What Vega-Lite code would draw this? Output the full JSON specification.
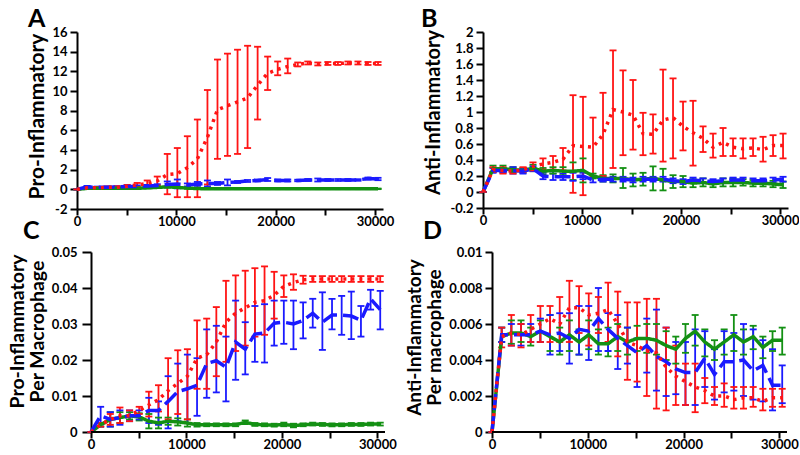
{
"$schema": "https://vega.github.io/schema/vega-lite/v6.json",
"background": "white",
"padding": {"left": 7, "top": 7, "right": 0, "bottom": 0},
"config": {
  "view": {"stroke": null},
  "font": "Lato",
  "axis": {"grid": false, "domainColor": "black", "domainWidth": 2, "tickColor": "black", "tickWidth": 2, "tickSize": 7, "tickCount": 40, "labelPadding": 3, "labelFont": "Lato", "labelFontWeight": "bold", "labelFontSize": 13, "labelColor": "black", "labelFlush": false, "labelOverlap": false, "titleFont": "Lato", "titleFontWeight": "bold", "titleColor": "black", "titlePadding": 4},
  "axisX": {"tickSize": 6, "labelPadding": 0},
  "title": {"font": "Lato", "fontWeight": "bold", "fontSize": 25, "anchor": "start", "frame": "group", "color": "black"}
},
"datasets": {
"A": [
{"x":0,"s":"green","y":0,"lo":0,"hi":0},{"x":1010,"s":"green","y":0.1,"lo":0.05,"hi":0.15},{"x":2020,"s":"green","y":0.1,"lo":0.05,"hi":0.15},{"x":3030,"s":"green","y":0.1,"lo":0.05,"hi":0.15},{"x":4040,"s":"green","y":0.1,"lo":0.05,"hi":0.15},{"x":5050,"s":"green","y":0.1,"lo":0.05,"hi":0.15},{"x":6060,"s":"green","y":0.1,"lo":0.05,"hi":0.15},{"x":7070,"s":"green","y":0.15,"lo":0.1,"hi":0.2},{"x":8080,"s":"green","y":0.2,"lo":0.15,"hi":0.25},{"x":9090,"s":"green","y":0.25,"lo":0.2,"hi":0.3},{"x":10100,"s":"green","y":0.2,"lo":0.15,"hi":0.25},{"x":11110,"s":"green","y":0.12,"lo":0.07,"hi":0.17},{"x":12120,"s":"green","y":0.08,"lo":0.03,"hi":0.13},{"x":13130,"s":"green","y":0.05,"lo":0.02,"hi":0.08},{"x":14140,"s":"green","y":0.05,"lo":0.02,"hi":0.08},{"x":15150,"s":"green","y":0.05,"lo":0.02,"hi":0.08},{"x":16160,"s":"green","y":0.05,"lo":0.02,"hi":0.08},{"x":17170,"s":"green","y":0.05,"lo":0.02,"hi":0.08},{"x":18180,"s":"green","y":0.05,"lo":0.02,"hi":0.08},{"x":19190,"s":"green","y":0.05,"lo":0.02,"hi":0.08},{"x":20200,"s":"green","y":0.05,"lo":0.02,"hi":0.08},{"x":21210,"s":"green","y":0.05,"lo":0.02,"hi":0.08},{"x":22220,"s":"green","y":0.05,"lo":0.02,"hi":0.08},{"x":23230,"s":"green","y":0.05,"lo":0.02,"hi":0.08},{"x":24240,"s":"green","y":0.05,"lo":0.02,"hi":0.08},{"x":25250,"s":"green","y":0.05,"lo":0.02,"hi":0.08},{"x":26260,"s":"green","y":0.05,"lo":0.02,"hi":0.08},{"x":27270,"s":"green","y":0.05,"lo":0.02,"hi":0.08},{"x":28280,"s":"green","y":0.05,"lo":0.02,"hi":0.08},{"x":29290,"s":"green","y":0.05,"lo":0.02,"hi":0.08},{"x":30300,"s":"green","y":0.05,"lo":0.02,"hi":0.08},
{"x":0,"s":"blue","y":0,"lo":0,"hi":0},{"x":1010,"s":"blue","y":0.25,"lo":0.15,"hi":0.35},{"x":2020,"s":"blue","y":0.2,"lo":0.12,"hi":0.28},{"x":3030,"s":"blue","y":0.2,"lo":0.12,"hi":0.28},{"x":4040,"s":"blue","y":0.25,"lo":0.17,"hi":0.33},{"x":5050,"s":"blue","y":0.3,"lo":0.2,"hi":0.4},{"x":6060,"s":"blue","y":0.3,"lo":0.2,"hi":0.4},{"x":7070,"s":"blue","y":0.35,"lo":0.25,"hi":0.45},{"x":8080,"s":"blue","y":0.4,"lo":0.28,"hi":0.52},{"x":9090,"s":"blue","y":0.5,"lo":0.2,"hi":0.8},{"x":10100,"s":"blue","y":0.55,"lo":0.1,"hi":1.0},{"x":11110,"s":"blue","y":0.45,"lo":0.3,"hi":0.6},{"x":12120,"s":"blue","y":0.55,"lo":0.35,"hi":0.75},{"x":13130,"s":"blue","y":0.6,"lo":0.3,"hi":0.9},{"x":14140,"s":"blue","y":0.6,"lo":0.45,"hi":0.75},{"x":15150,"s":"blue","y":0.7,"lo":0.4,"hi":1.0},{"x":16160,"s":"blue","y":0.75,"lo":0.65,"hi":0.85},{"x":17170,"s":"blue","y":0.85,"lo":0.75,"hi":0.95},{"x":18180,"s":"blue","y":0.9,"lo":0.8,"hi":1.0},{"x":19190,"s":"blue","y":1.0,"lo":0.85,"hi":1.15},{"x":20200,"s":"blue","y":0.9,"lo":0.8,"hi":1.0},{"x":21210,"s":"blue","y":0.9,"lo":0.8,"hi":1.0},{"x":22220,"s":"blue","y":0.9,"lo":0.82,"hi":0.98},{"x":23230,"s":"blue","y":0.95,"lo":0.85,"hi":1.05},{"x":24240,"s":"blue","y":0.95,"lo":0.8,"hi":1.1},{"x":25250,"s":"blue","y":0.95,"lo":0.85,"hi":1.05},{"x":26260,"s":"blue","y":0.95,"lo":0.85,"hi":1.05},{"x":27270,"s":"blue","y":0.95,"lo":0.85,"hi":1.05},{"x":28280,"s":"blue","y":0.95,"lo":0.87,"hi":1.03},{"x":29290,"s":"blue","y":1.1,"lo":1.0,"hi":1.2},{"x":30300,"s":"blue","y":1.05,"lo":0.93,"hi":1.17},
{"x":0,"s":"red","y":0,"lo":0,"hi":0},{"x":1010,"s":"red","y":0.15,"lo":0.05,"hi":0.25},{"x":2020,"s":"red","y":0.15,"lo":0.05,"hi":0.25},{"x":3030,"s":"red","y":0.2,"lo":0.1,"hi":0.3},{"x":4040,"s":"red","y":0.2,"lo":0.1,"hi":0.3},{"x":5050,"s":"red","y":0.3,"lo":0.15,"hi":0.45},{"x":6060,"s":"red","y":0.45,"lo":0.25,"hi":0.65},{"x":7070,"s":"red","y":0.6,"lo":0.3,"hi":0.9},{"x":8080,"s":"red","y":0.85,"lo":0.4,"hi":1.3},{"x":9090,"s":"red","y":1.5,"lo":-0.5,"hi":3.6},{"x":10100,"s":"red","y":1.6,"lo":-0.8,"hi":4.2},{"x":11110,"s":"red","y":2.2,"lo":-0.8,"hi":5.4},{"x":12120,"s":"red","y":3.1,"lo":-0.8,"hi":7.1},{"x":13130,"s":"red","y":5.3,"lo":0.5,"hi":10.1},{"x":14140,"s":"red","y":8.1,"lo":3.1,"hi":13.2},{"x":15150,"s":"red","y":8.5,"lo":3.4,"hi":13.8},{"x":16160,"s":"red","y":8.9,"lo":3.6,"hi":14.2},{"x":17170,"s":"red","y":9.3,"lo":4.2,"hi":14.6},{"x":18180,"s":"red","y":10.6,"lo":7.1,"hi":14.5},{"x":19190,"s":"red","y":11.8,"lo":10.1,"hi":13.5},{"x":20200,"s":"red","y":12.2,"lo":11.6,"hi":13.0},{"x":21210,"s":"red","y":12.5,"lo":11.8,"hi":13.3},{"x":22220,"s":"red","y":12.7,"lo":12.5,"hi":12.9},{"x":23230,"s":"red","y":12.85,"lo":12.7,"hi":13.0},{"x":24240,"s":"red","y":12.75,"lo":12.6,"hi":12.9},{"x":25250,"s":"red","y":12.8,"lo":12.65,"hi":12.95},{"x":26260,"s":"red","y":12.8,"lo":12.65,"hi":12.95},{"x":27270,"s":"red","y":12.85,"lo":12.7,"hi":13.0},{"x":28280,"s":"red","y":12.85,"lo":12.7,"hi":13.0},{"x":29290,"s":"red","y":12.8,"lo":12.65,"hi":12.95},{"x":30300,"s":"red","y":12.8,"lo":12.65,"hi":12.95}
],
"B": [
{"x":0,"s":"green","y":0,"lo":0,"hi":0},{"x":1010,"s":"green","y":0.29,"lo":0.25,"hi":0.33},{"x":2020,"s":"green","y":0.29,"lo":0.25,"hi":0.33},{"x":3030,"s":"green","y":0.28,"lo":0.25,"hi":0.31},{"x":4040,"s":"green","y":0.27,"lo":0.24,"hi":0.3},{"x":5050,"s":"green","y":0.3,"lo":0.26,"hi":0.34},{"x":6060,"s":"green","y":0.26,"lo":0.22,"hi":0.3},{"x":7070,"s":"green","y":0.27,"lo":0.23,"hi":0.31},{"x":8080,"s":"green","y":0.26,"lo":0.21,"hi":0.31},{"x":9090,"s":"green","y":0.26,"lo":0.15,"hi":0.37},{"x":10100,"s":"green","y":0.27,"lo":0.12,"hi":0.42},{"x":11110,"s":"green","y":0.2,"lo":0.17,"hi":0.23},{"x":12120,"s":"green","y":0.17,"lo":0.13,"hi":0.21},{"x":13130,"s":"green","y":0.17,"lo":0.12,"hi":0.22},{"x":14140,"s":"green","y":0.17,"lo":0.05,"hi":0.3},{"x":15150,"s":"green","y":0.15,"lo":0.07,"hi":0.23},{"x":16160,"s":"green","y":0.16,"lo":0.08,"hi":0.24},{"x":17170,"s":"green","y":0.17,"lo":0.02,"hi":0.32},{"x":18180,"s":"green","y":0.15,"lo":0.02,"hi":0.29},{"x":19190,"s":"green","y":0.13,"lo":0.05,"hi":0.21},{"x":20200,"s":"green","y":0.13,"lo":0.06,"hi":0.2},{"x":21210,"s":"green","y":0.11,"lo":0.06,"hi":0.16},{"x":22220,"s":"green","y":0.12,"lo":0.07,"hi":0.17},{"x":23230,"s":"green","y":0.1,"lo":0.06,"hi":0.14},{"x":24240,"s":"green","y":0.12,"lo":0.07,"hi":0.17},{"x":25250,"s":"green","y":0.12,"lo":0.07,"hi":0.17},{"x":26260,"s":"green","y":0.12,"lo":0.08,"hi":0.16},{"x":27270,"s":"green","y":0.11,"lo":0.07,"hi":0.15},{"x":28280,"s":"green","y":0.11,"lo":0.07,"hi":0.15},{"x":29290,"s":"green","y":0.1,"lo":0.06,"hi":0.14},{"x":30300,"s":"green","y":0.09,"lo":0.05,"hi":0.13},
{"x":0,"s":"blue","y":0,"lo":0,"hi":0},{"x":1010,"s":"blue","y":0.27,"lo":0.24,"hi":0.3},{"x":2020,"s":"blue","y":0.27,"lo":0.24,"hi":0.3},{"x":3030,"s":"blue","y":0.27,"lo":0.23,"hi":0.31},{"x":4040,"s":"blue","y":0.26,"lo":0.23,"hi":0.29},{"x":5050,"s":"blue","y":0.29,"lo":0.26,"hi":0.32},{"x":6060,"s":"blue","y":0.2,"lo":0.16,"hi":0.24},{"x":7070,"s":"blue","y":0.19,"lo":0.15,"hi":0.23},{"x":8080,"s":"blue","y":0.19,"lo":0.15,"hi":0.23},{"x":9090,"s":"blue","y":0.19,"lo":0.14,"hi":0.24},{"x":10100,"s":"blue","y":0.2,"lo":0.16,"hi":0.24},{"x":11110,"s":"blue","y":0.15,"lo":0.12,"hi":0.18},{"x":12120,"s":"blue","y":0.16,"lo":0.13,"hi":0.19},{"x":13130,"s":"blue","y":0.16,"lo":0.13,"hi":0.19},{"x":14140,"s":"blue","y":0.16,"lo":0.13,"hi":0.19},{"x":15150,"s":"blue","y":0.15,"lo":0.12,"hi":0.18},{"x":16160,"s":"blue","y":0.16,"lo":0.13,"hi":0.19},{"x":17170,"s":"blue","y":0.16,"lo":0.13,"hi":0.19},{"x":18180,"s":"blue","y":0.16,"lo":0.13,"hi":0.19},{"x":19190,"s":"blue","y":0.14,"lo":0.11,"hi":0.17},{"x":20200,"s":"blue","y":0.13,"lo":0.1,"hi":0.16},{"x":21210,"s":"blue","y":0.15,"lo":0.12,"hi":0.18},{"x":22220,"s":"blue","y":0.14,"lo":0.11,"hi":0.17},{"x":23230,"s":"blue","y":0.13,"lo":0.1,"hi":0.16},{"x":24240,"s":"blue","y":0.14,"lo":0.11,"hi":0.17},{"x":25250,"s":"blue","y":0.15,"lo":0.12,"hi":0.18},{"x":26260,"s":"blue","y":0.15,"lo":0.12,"hi":0.18},{"x":27270,"s":"blue","y":0.14,"lo":0.11,"hi":0.17},{"x":28280,"s":"blue","y":0.14,"lo":0.11,"hi":0.17},{"x":29290,"s":"blue","y":0.15,"lo":0.12,"hi":0.18},{"x":30300,"s":"blue","y":0.16,"lo":0.13,"hi":0.19},
{"x":0,"s":"red","y":0,"lo":0,"hi":0},{"x":1010,"s":"red","y":0.28,"lo":0.25,"hi":0.31},{"x":2020,"s":"red","y":0.27,"lo":0.23,"hi":0.31},{"x":3030,"s":"red","y":0.26,"lo":0.23,"hi":0.29},{"x":4040,"s":"red","y":0.28,"lo":0.25,"hi":0.31},{"x":5050,"s":"red","y":0.32,"lo":0.27,"hi":0.37},{"x":6060,"s":"red","y":0.35,"lo":0.28,"hi":0.42},{"x":7070,"s":"red","y":0.37,"lo":0.28,"hi":0.45},{"x":8080,"s":"red","y":0.41,"lo":0.27,"hi":0.55},{"x":9090,"s":"red","y":0.58,"lo":-0.01,"hi":1.21},{"x":10100,"s":"red","y":0.57,"lo":-0.04,"hi":1.19},{"x":11110,"s":"red","y":0.56,"lo":0.2,"hi":0.93},{"x":12120,"s":"red","y":0.72,"lo":0.2,"hi":1.24},{"x":13130,"s":"red","y":1.03,"lo":0.3,"hi":1.77},{"x":14140,"s":"red","y":1.0,"lo":0.46,"hi":1.52},{"x":15150,"s":"red","y":0.96,"lo":0.53,"hi":1.4},{"x":16160,"s":"red","y":0.73,"lo":0.46,"hi":0.99},{"x":17170,"s":"red","y":0.72,"lo":0.48,"hi":0.97},{"x":18180,"s":"red","y":0.9,"lo":0.38,"hi":1.53},{"x":19190,"s":"red","y":0.93,"lo":0.42,"hi":1.42},{"x":20200,"s":"red","y":0.82,"lo":0.52,"hi":1.13},{"x":21210,"s":"red","y":0.74,"lo":0.33,"hi":1.14},{"x":22220,"s":"red","y":0.67,"lo":0.5,"hi":0.82},{"x":23230,"s":"red","y":0.56,"lo":0.43,"hi":0.73},{"x":24240,"s":"red","y":0.62,"lo":0.45,"hi":0.8},{"x":25250,"s":"red","y":0.56,"lo":0.45,"hi":0.67},{"x":26260,"s":"red","y":0.54,"lo":0.42,"hi":0.67},{"x":27270,"s":"red","y":0.55,"lo":0.45,"hi":0.67},{"x":28280,"s":"red","y":0.53,"lo":0.38,"hi":0.69},{"x":29290,"s":"red","y":0.58,"lo":0.45,"hi":0.71},{"x":30300,"s":"red","y":0.58,"lo":0.42,"hi":0.73}
],
"C": [
{"x":0,"s":"green","y":0,"lo":0,"hi":0},{"x":1010,"s":"green","y":0.002,"lo":0.0015,"hi":0.0025},{"x":2020,"s":"green","y":0.0035,"lo":0.0015,"hi":0.0055},{"x":3030,"s":"green","y":0.004,"lo":0.0025,"hi":0.0055},{"x":4040,"s":"green","y":0.0045,"lo":0.0035,"hi":0.0055},{"x":5050,"s":"green","y":0.0042,"lo":0.0032,"hi":0.0052},{"x":6060,"s":"green","y":0.003,"lo":0.001,"hi":0.005},{"x":7070,"s":"green","y":0.0025,"lo":0.001,"hi":0.004},{"x":8080,"s":"green","y":0.003,"lo":0.002,"hi":0.004},{"x":9090,"s":"green","y":0.0028,"lo":0.0018,"hi":0.0038},{"x":10100,"s":"green","y":0.0025,"lo":0.0015,"hi":0.0035},{"x":11110,"s":"green","y":0.002,"lo":0.0015,"hi":0.0025},{"x":12120,"s":"green","y":0.002,"lo":0.0016,"hi":0.0024},{"x":13130,"s":"green","y":0.002,"lo":0.0016,"hi":0.0024},{"x":14140,"s":"green","y":0.002,"lo":0.0016,"hi":0.0024},{"x":15150,"s":"green","y":0.002,"lo":0.0016,"hi":0.0024},{"x":16160,"s":"green","y":0.0027,"lo":0.0022,"hi":0.0032},{"x":17170,"s":"green","y":0.0021,"lo":0.0017,"hi":0.0025},{"x":18180,"s":"green","y":0.002,"lo":0.0016,"hi":0.0024},{"x":19190,"s":"green","y":0.0019,"lo":0.0015,"hi":0.0023},{"x":20200,"s":"green","y":0.0021,"lo":0.0016,"hi":0.0026},{"x":21210,"s":"green","y":0.0018,"lo":0.0013,"hi":0.0023},{"x":22220,"s":"green","y":0.002,"lo":0.0016,"hi":0.0024},{"x":23230,"s":"green","y":0.0022,"lo":0.0018,"hi":0.0026},{"x":24240,"s":"green","y":0.0021,"lo":0.0017,"hi":0.0025},{"x":25250,"s":"green","y":0.002,"lo":0.0016,"hi":0.0024},{"x":26260,"s":"green","y":0.002,"lo":0.0016,"hi":0.0024},{"x":27270,"s":"green","y":0.0021,"lo":0.0017,"hi":0.0025},{"x":28280,"s":"green","y":0.0021,"lo":0.0017,"hi":0.0025},{"x":29290,"s":"green","y":0.0022,"lo":0.0018,"hi":0.0026},{"x":30300,"s":"green","y":0.0022,"lo":0.0018,"hi":0.0026},
{"x":0,"s":"blue","y":0,"lo":0,"hi":0},{"x":1010,"s":"blue","y":0.0045,"lo":0.0015,"hi":0.007},{"x":2020,"s":"blue","y":0.0035,"lo":0.0015,"hi":0.0055},{"x":3030,"s":"blue","y":0.004,"lo":0.002,"hi":0.006},{"x":4040,"s":"blue","y":0.0045,"lo":0.003,"hi":0.006},{"x":5050,"s":"blue","y":0.0045,"lo":0.0035,"hi":0.006},{"x":6060,"s":"blue","y":0.006,"lo":0.0025,"hi":0.0095},{"x":7070,"s":"blue","y":0.006,"lo":0.002,"hi":0.0085},{"x":8080,"s":"blue","y":0.0085,"lo":0.001,"hi":0.0155},{"x":9090,"s":"blue","y":0.0112,"lo":0.003,"hi":0.019},{"x":10100,"s":"blue","y":0.012,"lo":0.0025,"hi":0.0215},{"x":11110,"s":"blue","y":0.013,"lo":0.0045,"hi":0.0205},{"x":12120,"s":"blue","y":0.019,"lo":0.0095,"hi":0.0285},{"x":13130,"s":"blue","y":0.0198,"lo":0.011,"hi":0.0295},{"x":14140,"s":"blue","y":0.018,"lo":0.0085,"hi":0.0265},{"x":15150,"s":"blue","y":0.025,"lo":0.0145,"hi":0.0365},{"x":16160,"s":"blue","y":0.023,"lo":0.016,"hi":0.0305},{"x":17170,"s":"blue","y":0.0272,"lo":0.0195,"hi":0.035},{"x":18180,"s":"blue","y":0.0275,"lo":0.0193,"hi":0.0355},{"x":19190,"s":"blue","y":0.0302,"lo":0.024,"hi":0.0365},{"x":20200,"s":"blue","y":0.0305,"lo":0.0245,"hi":0.0365},{"x":21210,"s":"blue","y":0.03,"lo":0.023,"hi":0.0365},{"x":22220,"s":"blue","y":0.031,"lo":0.026,"hi":0.036},{"x":23230,"s":"blue","y":0.033,"lo":0.029,"hi":0.037},{"x":24240,"s":"blue","y":0.0305,"lo":0.0228,"hi":0.0388},{"x":25250,"s":"blue","y":0.0325,"lo":0.0285,"hi":0.037},{"x":26260,"s":"blue","y":0.0325,"lo":0.027,"hi":0.0378},{"x":27270,"s":"blue","y":0.0322,"lo":0.0258,"hi":0.039},{"x":28280,"s":"blue","y":0.031,"lo":0.0265,"hi":0.035},{"x":29290,"s":"blue","y":0.037,"lo":0.034,"hi":0.0395},{"x":30300,"s":"blue","y":0.034,"lo":0.0285,"hi":0.0392},
{"x":0,"s":"red","y":0,"lo":0,"hi":0},{"x":1010,"s":"red","y":0.002,"lo":0.0015,"hi":0.0025},{"x":2020,"s":"red","y":0.0035,"lo":0.002,"hi":0.005},{"x":3030,"s":"red","y":0.0045,"lo":0.0025,"hi":0.0068},{"x":4040,"s":"red","y":0.0045,"lo":0.003,"hi":0.006},{"x":5050,"s":"red","y":0.006,"lo":0.005,"hi":0.007},{"x":6060,"s":"red","y":0.0075,"lo":0.0043,"hi":0.0112},{"x":7070,"s":"red","y":0.009,"lo":0.0057,"hi":0.013},{"x":8080,"s":"red","y":0.0115,"lo":0.0035,"hi":0.0205},{"x":9090,"s":"red","y":0.0135,"lo":0.005,"hi":0.0227},{"x":10100,"s":"red","y":0.0155,"lo":0.0035,"hi":0.023},{"x":11110,"s":"red","y":0.0205,"lo":0.012,"hi":0.031},{"x":12120,"s":"red","y":0.0215,"lo":0.012,"hi":0.0315},{"x":13130,"s":"red","y":0.025,"lo":0.0155,"hi":0.0347},{"x":14140,"s":"red","y":0.0305,"lo":0.0195,"hi":0.042},{"x":15150,"s":"red","y":0.033,"lo":0.0225,"hi":0.0435},{"x":16160,"s":"red","y":0.0345,"lo":0.024,"hi":0.0448},{"x":17170,"s":"red","y":0.036,"lo":0.0265,"hi":0.0455},{"x":18180,"s":"red","y":0.0365,"lo":0.027,"hi":0.046},{"x":19190,"s":"red","y":0.038,"lo":0.0315,"hi":0.0445},{"x":20200,"s":"red","y":0.0405,"lo":0.0375,"hi":0.0435},{"x":21210,"s":"red","y":0.0415,"lo":0.0395,"hi":0.0438},{"x":22220,"s":"red","y":0.0423,"lo":0.0412,"hi":0.0434},{"x":23230,"s":"red","y":0.0425,"lo":0.0417,"hi":0.0433},{"x":24240,"s":"red","y":0.0425,"lo":0.0417,"hi":0.0433},{"x":25250,"s":"red","y":0.0425,"lo":0.0417,"hi":0.0433},{"x":26260,"s":"red","y":0.0425,"lo":0.0417,"hi":0.0433},{"x":27270,"s":"red","y":0.0425,"lo":0.0417,"hi":0.0433},{"x":28280,"s":"red","y":0.0425,"lo":0.0417,"hi":0.0433},{"x":29290,"s":"red","y":0.0425,"lo":0.0417,"hi":0.0433},{"x":30300,"s":"red","y":0.0425,"lo":0.0417,"hi":0.0433}
],
"D": [
{"x":0,"s":"green","y":0,"lo":0,"hi":0},{"x":1010,"s":"green","y":0.0053,"lo":0.005,"hi":0.0058},{"x":2020,"s":"green","y":0.0055,"lo":0.0049,"hi":0.0062},{"x":3030,"s":"green","y":0.0055,"lo":0.005,"hi":0.0062},{"x":4040,"s":"green","y":0.0053,"lo":0.0048,"hi":0.0058},{"x":5050,"s":"green","y":0.0056,"lo":0.005,"hi":0.0062},{"x":6060,"s":"green","y":0.0053,"lo":0.0045,"hi":0.0065},{"x":7070,"s":"green","y":0.005,"lo":0.0043,"hi":0.0058},{"x":8080,"s":"green","y":0.0054,"lo":0.0045,"hi":0.0062},{"x":9090,"s":"green","y":0.005,"lo":0.0043,"hi":0.0057},{"x":10100,"s":"green","y":0.0054,"lo":0.0046,"hi":0.0062},{"x":11110,"s":"green","y":0.0049,"lo":0.0043,"hi":0.0057},{"x":12120,"s":"green","y":0.0049,"lo":0.0042,"hi":0.0058},{"x":13130,"s":"green","y":0.0053,"lo":0.0045,"hi":0.006},{"x":14140,"s":"green","y":0.005,"lo":0.0043,"hi":0.0058},{"x":15150,"s":"green","y":0.0052,"lo":0.0045,"hi":0.0059},{"x":16160,"s":"green","y":0.0052,"lo":0.0044,"hi":0.006},{"x":17170,"s":"green","y":0.0051,"lo":0.0043,"hi":0.006},{"x":18180,"s":"green","y":0.0048,"lo":0.004,"hi":0.0056},{"x":19190,"s":"green","y":0.0046,"lo":0.0038,"hi":0.0053},{"x":20200,"s":"green","y":0.0052,"lo":0.0044,"hi":0.006},{"x":21210,"s":"green","y":0.0056,"lo":0.0048,"hi":0.0065},{"x":22220,"s":"green","y":0.005,"lo":0.0042,"hi":0.0057},{"x":23230,"s":"green","y":0.0046,"lo":0.004,"hi":0.0051},{"x":24240,"s":"green","y":0.005,"lo":0.0043,"hi":0.0057},{"x":25250,"s":"green","y":0.0054,"lo":0.0045,"hi":0.0065},{"x":26260,"s":"green","y":0.005,"lo":0.0043,"hi":0.0057},{"x":27270,"s":"green","y":0.0053,"lo":0.0046,"hi":0.0059},{"x":28280,"s":"green","y":0.0047,"lo":0.0041,"hi":0.0053},{"x":29290,"s":"green","y":0.0051,"lo":0.0045,"hi":0.0056},{"x":30300,"s":"green","y":0.0051,"lo":0.0043,"hi":0.0058},
{"x":0,"s":"blue","y":0,"lo":0,"hi":0},{"x":1010,"s":"blue","y":0.0054,"lo":0.005,"hi":0.0058},{"x":2020,"s":"blue","y":0.0054,"lo":0.0048,"hi":0.006},{"x":3030,"s":"blue","y":0.0054,"lo":0.0048,"hi":0.006},{"x":4040,"s":"blue","y":0.0054,"lo":0.005,"hi":0.006},{"x":5050,"s":"blue","y":0.0056,"lo":0.005,"hi":0.0063},{"x":6060,"s":"blue","y":0.0054,"lo":0.0043,"hi":0.0065},{"x":7070,"s":"blue","y":0.0055,"lo":0.0045,"hi":0.0066},{"x":8080,"s":"blue","y":0.0052,"lo":0.0038,"hi":0.0066},{"x":9090,"s":"blue","y":0.0057,"lo":0.0043,"hi":0.007},{"x":10100,"s":"blue","y":0.0056,"lo":0.004,"hi":0.007},{"x":11110,"s":"blue","y":0.0063,"lo":0.0045,"hi":0.008},{"x":12120,"s":"blue","y":0.0057,"lo":0.0045,"hi":0.0066},{"x":13130,"s":"blue","y":0.0052,"lo":0.0035,"hi":0.0065},{"x":14140,"s":"blue","y":0.0048,"lo":0.0038,"hi":0.0058},{"x":15150,"s":"blue","y":0.0044,"lo":0.0025,"hi":0.0052},{"x":16160,"s":"blue","y":0.0048,"lo":0.0033,"hi":0.0063},{"x":17170,"s":"blue","y":0.0042,"lo":0.0023,"hi":0.0068},{"x":18180,"s":"blue","y":0.0039,"lo":0.002,"hi":0.0058},{"x":19190,"s":"blue","y":0.0035,"lo":0.0021,"hi":0.005},{"x":20200,"s":"blue","y":0.0033,"lo":0.0015,"hi":0.005},{"x":21210,"s":"blue","y":0.0033,"lo":0.0015,"hi":0.0057},{"x":22220,"s":"blue","y":0.0041,"lo":0.0025,"hi":0.0056},{"x":23230,"s":"blue","y":0.0032,"lo":0.0018,"hi":0.0046},{"x":24240,"s":"blue","y":0.0039,"lo":0.0022,"hi":0.0056},{"x":25250,"s":"blue","y":0.0039,"lo":0.0023,"hi":0.0055},{"x":26260,"s":"blue","y":0.004,"lo":0.002,"hi":0.006},{"x":27270,"s":"blue","y":0.0034,"lo":0.0018,"hi":0.0057},{"x":28280,"s":"blue","y":0.0037,"lo":0.0017,"hi":0.0051},{"x":29290,"s":"blue","y":0.0026,"lo":0.0012,"hi":0.0046},{"x":30300,"s":"blue","y":0.0026,"lo":0.0016,"hi":0.0037},
{"x":0,"s":"red","y":0,"lo":0,"hi":0},{"x":1010,"s":"red","y":0.0053,"lo":0.0047,"hi":0.0058},{"x":2020,"s":"red","y":0.0055,"lo":0.0048,"hi":0.0065},{"x":3030,"s":"red","y":0.0054,"lo":0.0047,"hi":0.006},{"x":4040,"s":"red","y":0.0057,"lo":0.005,"hi":0.0065},{"x":5050,"s":"red","y":0.006,"lo":0.005,"hi":0.007},{"x":6060,"s":"red","y":0.0063,"lo":0.005,"hi":0.007},{"x":7070,"s":"red","y":0.006,"lo":0.005,"hi":0.0075},{"x":8080,"s":"red","y":0.0069,"lo":0.005,"hi":0.0084},{"x":9090,"s":"red","y":0.0069,"lo":0.0055,"hi":0.0081},{"x":10100,"s":"red","y":0.0065,"lo":0.0048,"hi":0.0077},{"x":11110,"s":"red","y":0.0066,"lo":0.0055,"hi":0.0075},{"x":12120,"s":"red","y":0.0068,"lo":0.005,"hi":0.0083},{"x":13130,"s":"red","y":0.006,"lo":0.0042,"hi":0.0078},{"x":14140,"s":"red","y":0.005,"lo":0.0029,"hi":0.0072},{"x":15150,"s":"red","y":0.0048,"lo":0.0028,"hi":0.0072},{"x":16160,"s":"red","y":0.0045,"lo":0.002,"hi":0.0074},{"x":17170,"s":"red","y":0.0044,"lo":0.0013,"hi":0.0074},{"x":18180,"s":"red","y":0.0036,"lo":0.0012,"hi":0.0058},{"x":19190,"s":"red","y":0.0031,"lo":0.0015,"hi":0.0048},{"x":20200,"s":"red","y":0.0028,"lo":0.0015,"hi":0.0038},{"x":21210,"s":"red","y":0.0025,"lo":0.0011,"hi":0.0038},{"x":22220,"s":"red","y":0.0023,"lo":0.0016,"hi":0.003},{"x":23230,"s":"red","y":0.002,"lo":0.0015,"hi":0.0025},{"x":24240,"s":"red","y":0.002,"lo":0.0014,"hi":0.0027},{"x":25250,"s":"red","y":0.0018,"lo":0.0013,"hi":0.0025},{"x":26260,"s":"red","y":0.0019,"lo":0.0013,"hi":0.0025},{"x":27270,"s":"red","y":0.0019,"lo":0.0014,"hi":0.0025},{"x":28280,"s":"red","y":0.0017,"lo":0.0012,"hi":0.0024},{"x":29290,"s":"red","y":0.0019,"lo":0.0014,"hi":0.0024},{"x":30300,"s":"red","y":0.0019,"lo":0.0014,"hi":0.0024}
]
},
"columns": 2,
"align": "each",
"spacing": {"row": -9, "column": 8},
"concat": [
{
 "width": 306, "height": 177,
 "title": {"text": "A", "dx": -49, "dy": 10},
 "data": {"name": "A"},
 "encoding": {
   "x": {"field": "x", "type": "quantitative", "scale": {"domain": [0, 30800], "nice": false},
     "axis": {"values": [0,5000,10000,15000,20000,25000,30000], "format": "d", "labelExpr": "datum.value % 10000 === 0 ? datum.label : ''", "title": null}},
   "color": {"field": "s", "type": "nominal", "scale": {"domain": ["green","blue","red"], "range": ["#139013","#1a1aff","#ff1414"]}, "legend": null}
 },
 "layer": [
  {"mark": {"type": "rule", "strokeWidth": 1.8, "opacity": 1},
   "encoding": {"y": {"field": "lo", "type": "quantitative", "scale": {"domain": [-2, 16], "nice": false}, "title": "Pro-Inflammatory",
      "axis": {"values": [-2,0,2,4,6,8,10,12,14,16], "format": "d", "labelExpr": "replace(datum.label, '−', '-')", "titleFontSize": 21, "titleY": 84}},
     "y2": {"field": "hi"}}},
  {"mark": {"type": "tick", "orient": "horizontal", "size": 7, "thickness": 1.8, "opacity": 1},
   "encoding": {"y": {"field": "hi", "type": "quantitative", "scale": {"domain": [-2, 16], "nice": false}, "title": "Pro-Inflammatory"}}},
  {"mark": {"type": "tick", "orient": "horizontal", "size": 7, "thickness": 1.8, "opacity": 1},
   "encoding": {"y": {"field": "lo", "type": "quantitative", "scale": {"domain": [-2, 16], "nice": false}, "title": "Pro-Inflammatory"}}},
  {"mark": {"type": "line", "strokeWidth": 3.5, "strokeCap": "butt"},
   "encoding": {"y": {"field": "y", "type": "quantitative", "scale": {"domain": [-2, 16], "nice": false}, "title": "Pro-Inflammatory"},
     "strokeDash": {"field": "s", "type": "nominal", "scale": {"domain": ["green","blue","red"], "range": [[1,0],[16,6],[3,5]]}, "legend": null}}}
 ]
},
{
 "width": 305, "height": 176,
 "title": {"text": "B", "dx": -62, "dy": 10},
 "data": {"name": "B"},
 "encoding": {
   "x": {"field": "x", "type": "quantitative", "scale": {"domain": [0, 30800], "nice": false},
     "axis": {"values": [0,5000,10000,15000,20000,25000,30000], "format": "d", "labelExpr": "datum.value % 10000 === 0 ? datum.label : ''", "title": null}},
   "color": {"field": "s", "type": "nominal", "scale": {"domain": ["green","blue","red"], "range": ["#139013","#1a1aff","#ff1414"]}, "legend": null}
 },
 "layer": [
  {"mark": {"type": "rule", "strokeWidth": 1.8, "opacity": 1},
   "encoding": {"y": {"field": "lo", "type": "quantitative", "scale": {"domain": [-0.2, 2], "nice": false}, "title": "Anti-Inflammatory",
      "axis": {"values": [-0.2,0,0.2,0.4,0.6,0.8,1,1.2,1.4,1.6,1.8,2], "format": "~g", "labelExpr": "replace(datum.label, '−', '-')", "titleFontSize": 20, "titlePadding": 6, "titleY": 80}},
     "y2": {"field": "hi"}}},
  {"mark": {"type": "tick", "orient": "horizontal", "size": 7, "thickness": 1.8, "opacity": 1},
   "encoding": {"y": {"field": "hi", "type": "quantitative", "scale": {"domain": [-0.2, 2], "nice": false}, "title": "Anti-Inflammatory"}}},
  {"mark": {"type": "tick", "orient": "horizontal", "size": 7, "thickness": 1.8, "opacity": 1},
   "encoding": {"y": {"field": "lo", "type": "quantitative", "scale": {"domain": [-0.2, 2], "nice": false}, "title": "Anti-Inflammatory"}}},
  {"mark": {"type": "line", "strokeWidth": 3.5, "strokeCap": "butt"},
   "encoding": {"y": {"field": "y", "type": "quantitative", "scale": {"domain": [-0.2, 2], "nice": false}, "title": "Anti-Inflammatory"},
     "strokeDash": {"field": "s", "type": "nominal", "scale": {"domain": ["green","blue","red"], "range": [[1,0],[16,6],[3,5]]}, "legend": null}}}
 ]
},
{
 "width": 308, "height": 180,
 "title": {"text": "C", "dx": -54, "dy": 2},
 "data": {"name": "C"},
 "encoding": {
   "x": {"field": "x", "type": "quantitative", "scale": {"domain": [-1467, 30800], "nice": false},
     "axis": {"values": [0,5000,10000,15000,20000,25000,30000], "format": "d", "labelExpr": "datum.value % 10000 === 0 ? datum.label : ''", "title": null, "domain": false}},
   "color": {"field": "s", "type": "nominal", "scale": {"domain": ["green","blue","red"], "range": ["#139013","#1a1aff","#ff1414"]}, "legend": null}
 },
 "layer": [
  {"mark": {"type": "rule", "strokeWidth": 1.8, "opacity": 1},
   "encoding": {"y": {"field": "lo", "type": "quantitative", "scale": {"domain": [0, 0.05], "nice": false}, "title": ["Pro-Inflammatory", "Per Macrophage"],
      "axis": {"values": [0,0.01,0.02,0.03,0.04,0.05], "format": "~g", "titleFontSize": 19.5, "titleLineHeight": 20, "tickSize": 9, "labelPadding": 5, "titleY": 79, "offset": -14}},
     "y2": {"field": "hi"}}},
  {"mark": {"type": "tick", "orient": "horizontal", "size": 7, "thickness": 1.8, "opacity": 1},
   "encoding": {"y": {"field": "hi", "type": "quantitative", "scale": {"domain": [0, 0.05], "nice": false}, "title": ["Pro-Inflammatory", "Per Macrophage"]}}},
  {"mark": {"type": "tick", "orient": "horizontal", "size": 7, "thickness": 1.8, "opacity": 1},
   "encoding": {"y": {"field": "lo", "type": "quantitative", "scale": {"domain": [0, 0.05], "nice": false}, "title": ["Pro-Inflammatory", "Per Macrophage"]}}},
  {"mark": {"type": "line", "strokeWidth": 3.5, "strokeCap": "butt"},
   "encoding": {"y": {"field": "y", "type": "quantitative", "scale": {"domain": [0, 0.05], "nice": false}, "title": ["Pro-Inflammatory", "Per Macrophage"]},
     "strokeDash": {"field": "s", "type": "nominal", "scale": {"domain": ["green","blue","red"], "range": [[1,0],[16,6],[3,5]]}, "legend": null}}},
  {"mark": {"type": "rule", "color": "black", "strokeWidth": 2},
   "encoding": {"x": {"datum": 0}, "x2": {"datum": 30800}, "y": {"datum": 0}, "color": {"value": "black"}}}
 ]
},
{
 "width": 304, "height": 180,
 "title": {"text": "D", "dx": -60, "dy": 2},
 "data": {"name": "D"},
 "encoding": {
   "x": {"field": "x", "type": "quantitative", "scale": {"domain": [-940, 30800], "nice": false},
     "axis": {"values": [0,5000,10000,15000,20000,25000,30000], "format": "d", "labelExpr": "datum.value % 10000 === 0 ? datum.label : ''", "title": null, "domain": false}},
   "color": {"field": "s", "type": "nominal", "scale": {"domain": ["green","blue","red"], "range": ["#139013","#1a1aff","#ff1414"]}, "legend": null}
 },
 "layer": [
  {"mark": {"type": "rule", "strokeWidth": 1.8, "opacity": 1},
   "encoding": {"y": {"field": "lo", "type": "quantitative", "scale": {"domain": [0, 0.01], "nice": false}, "title": ["Anti-Inflammatory", "Per macrophage"],
      "axis": {"values": [0,0.002,0.004,0.006,0.008,0.01], "format": "~g", "titleFontSize": 19, "titleLineHeight": 20, "titleY": 85, "offset": -9}},
     "y2": {"field": "hi"}}},
  {"mark": {"type": "tick", "orient": "horizontal", "size": 7, "thickness": 1.8, "opacity": 1},
   "encoding": {"y": {"field": "hi", "type": "quantitative", "scale": {"domain": [0, 0.01], "nice": false}, "title": ["Anti-Inflammatory", "Per macrophage"]}}},
  {"mark": {"type": "tick", "orient": "horizontal", "size": 7, "thickness": 1.8, "opacity": 1},
   "encoding": {"y": {"field": "lo", "type": "quantitative", "scale": {"domain": [0, 0.01], "nice": false}, "title": ["Anti-Inflammatory", "Per macrophage"]}}},
  {"mark": {"type": "line", "strokeWidth": 3.5, "strokeCap": "butt"},
   "encoding": {"y": {"field": "y", "type": "quantitative", "scale": {"domain": [0, 0.01], "nice": false}, "title": ["Anti-Inflammatory", "Per macrophage"]},
     "strokeDash": {"field": "s", "type": "nominal", "scale": {"domain": ["green","blue","red"], "range": [[1,0],[16,6],[3,5]]}, "legend": null}}},
  {"mark": {"type": "rule", "color": "black", "strokeWidth": 2},
   "encoding": {"x": {"datum": 0}, "x2": {"datum": 30800}, "y": {"datum": 0}, "color": {"value": "black"}}}
 ]
}
]
}
